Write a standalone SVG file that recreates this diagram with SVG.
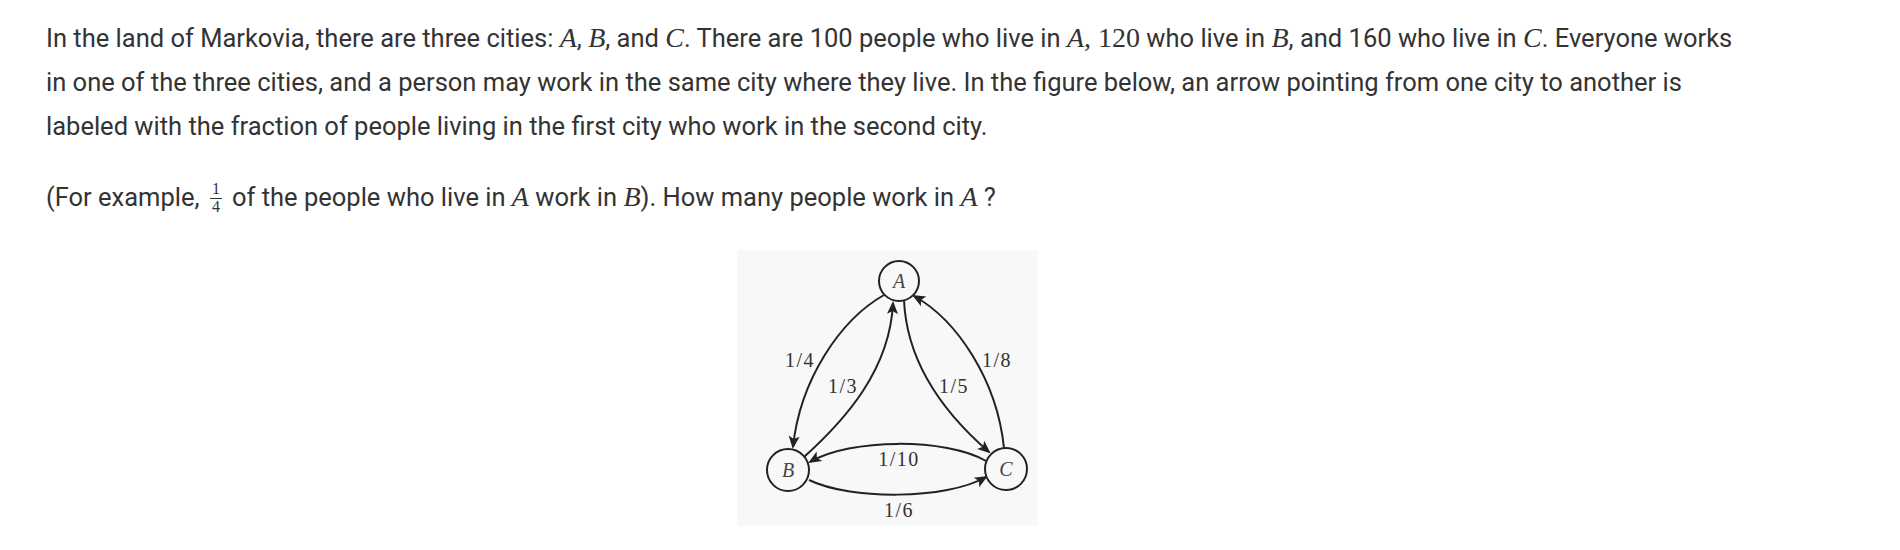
<svg xmlns="http://www.w3.org/2000/svg" width="1900" height="550" viewBox="0 0 1900 550">
<style>
.t{font-family:Roboto,"Liberation Sans",sans-serif;font-size:25.5px;fill:#333}
.m{font-family:"Liberation Serif",serif;font-style:italic;font-size:28px}
.mr{font-family:"Liberation Serif",serif;font-size:28px}
.fr{font-family:"Liberation Serif",serif;font-size:16px;fill:#333;text-anchor:middle}
.node circle{fill:#f8f8f8;stroke:#222;stroke-width:2}
.node text{font-family:"Liberation Serif",serif;font-style:italic;font-size:20px;fill:#444;text-anchor:middle}
.edge{fill:none;stroke:#222;stroke-width:2}
.lbl{font-family:"Liberation Serif",serif;font-size:20px;fill:#333;text-anchor:middle;letter-spacing:1.5px}
</style>
<defs>
<marker id="arr" markerUnits="userSpaceOnUse" viewBox="-13 -7 16 14" markerWidth="16" markerHeight="14" refX="0" refY="0" orient="auto">
<path d="M2,0 L-11,-5.5 L-8,0 L-11,5.5 Z" fill="#222"/>
</marker>
</defs>
<rect width="1900" height="550" fill="#ffffff"/>
<text class="t" x="46" y="47">In the land of Markovia, there are three cities: <tspan class="m">A</tspan>, <tspan class="m">B</tspan>, and <tspan class="m">C</tspan>. There are 100 people who live in <tspan class="m">A</tspan><tspan class="mr">, 120</tspan> who live in <tspan class="m">B</tspan>, and 160 who live in <tspan class="m">C</tspan>. Everyone works</text>
<text class="t" x="46" y="91">in one of the three cities, and a person may work in the same city where they live. In the figure below, an arrow pointing from one city to another is</text>
<text class="t" x="46" y="135">labeled with the fraction of people living in the first city who work in the second city.</text>
<text class="t" x="46" y="206">(For example,</text>
<g id="fraction">
<text class="fr" x="216" y="194">1</text>
<line x1="210" y1="198.5" x2="222" y2="198.5" stroke="#333" stroke-width="1"/>
<text class="fr" x="216" y="212">4</text>
</g>
<text class="t" x="232" y="206">of the people who live in <tspan class="m">A</tspan> work in <tspan class="m">B</tspan>). How many people work in <tspan class="m">A</tspan> ?</text>

<rect x="737" y="250" width="301" height="276" fill="#f8f8f8"/>
<g id="connectors">
<path id="e-AB" class="edge" marker-end="url(#arr)" d="M884,295 C840,320 800,380 793,447"/>
<path id="e-CA" class="edge" marker-end="url(#arr)" d="M1004,448 C997,380 957,320 914,296"/>
<path id="e-BA" class="edge" marker-end="url(#arr)" d="M804,457 C845,420 890,370 893,303"/>
<path id="e-AC" class="edge" marker-end="url(#arr)" d="M904,300 C907,370 952,420 989,452"/>
<path id="e-CB" class="edge" marker-end="url(#arr)" d="M986,461 C946,438 850,438 810,462"/>
<path id="e-BC" class="edge" marker-end="url(#arr)" d="M809,480 C850,500 946,500 986,477"/>
<text class="lbl" x="800" y="367">1/4</text>
<text class="lbl" x="843" y="393">1/3</text>
<text class="lbl" x="954" y="393">1/5</text>
<text class="lbl" x="997" y="367">1/8</text>
<text class="lbl" x="899" y="466">1/10</text>
<text class="lbl" x="899" y="517">1/6</text>
</g>
<g id="node-A" class="node"><circle cx="899" cy="281" r="20"/><text x="899" y="288">A</text></g>
<g id="node-B" class="node"><circle cx="788" cy="470" r="21"/><text x="788" y="477">B</text></g>
<g id="node-C" class="node"><circle cx="1006" cy="469" r="21"/><text x="1006" y="476">C</text></g>
</svg>
